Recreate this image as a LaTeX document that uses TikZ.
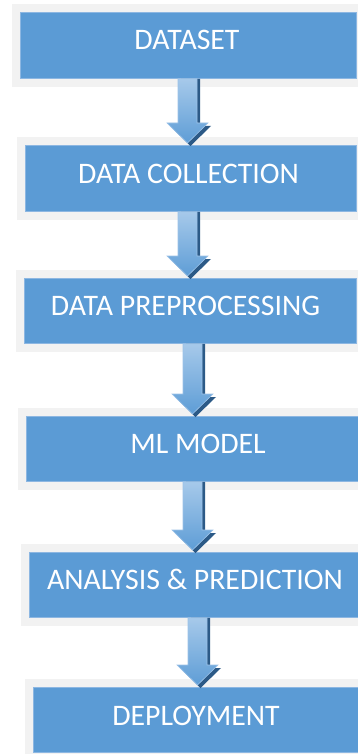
\documentclass[tikz,border=0pt]{standalone}
\usepackage{fontspec}
\setmainfont{Carlito}
\usetikzlibrary{calc,backgrounds}
\definecolor{boxblue}{HTML}{5B9BD5}
\definecolor{boxedge}{HTML}{8DB7E2}
\definecolor{backgrey}{HTML}{F2F2F2}
\definecolor{arrowtop}{HTML}{A6C9EA}
\definecolor{arrowbot}{HTML}{5E9DD6}
\definecolor{arrowdark}{HTML}{2C5A87}
\definecolor{arrowedge}{HTML}{9CC2E8}
\tikzset{
  flowbox/.style={rectangle, fill=boxblue, draw=boxedge, line width=0.8pt, inner sep=0pt, anchor=north west},
  flowtext/.style={text=white, font=\fontsize{29.8}{35}\selectfont, inner sep=0pt, anchor=base},
  backdrop/.style={fill=backgrey},
  arrowshadow/.style={fill=arrowdark},
  arrowbody/.style={top color=arrowtop, bottom color=arrowbot, draw=arrowedge, line width=0.6pt, line join=miter},
}
\newcommand{\flowarrow}[3]{%
  \fill[arrowshadow] let \p1=(#1.south), \p2=(#2.north) in
    ({#3pt-9.5pt+3pt},{\y1}) -- ({#3pt+9.5pt+3pt},{\y1}) -- ({#3pt+9.5pt+3pt},{\y2+22pt-3pt})
    -- ({#3pt+20.5pt+3pt},{\y2+22pt-3pt}) -- ({#3pt+3pt},{\y2+2pt-3pt})
    -- ({#3pt-20.5pt+3pt},{\y2+22pt-3pt}) -- ({#3pt-9.5pt+3pt},{\y2+22pt-3pt}) -- cycle;
  \shadedraw[arrowbody] let \p1=(#1.south), \p2=(#2.north) in
    ({#3pt-9.5pt},{\y1}) -- ({#3pt+9.5pt},{\y1}) -- ({#3pt+9.5pt},{\y2+22pt})
    -- ({#3pt+20.5pt},{\y2+22pt}) -- ({#3pt},{\y2+2pt})
    -- ({#3pt-20.5pt},{\y2+22pt}) -- ({#3pt-9.5pt},{\y2+22pt}) -- cycle;
}
\begin{document}
\begin{tikzpicture}[x=1pt,y=-1pt]
\useasboundingbox (0,0) rectangle (357,754);

\node[flowbox, minimum width=336pt, minimum height=66pt] (b1) at (20,12) {};
\node[flowbox, minimum width=331pt, minimum height=66pt] (b2) at (25,145) {};
\node[flowbox, minimum width=332pt, minimum height=65pt] (b3) at (24,278) {};
\node[flowbox, minimum width=345pt, minimum height=65pt] (b4) at (26,416) {};
\node[flowbox, minimum width=345pt, minimum height=65pt] (b5) at (29,552) {};
\node[flowbox, minimum width=345pt, minimum height=65pt] (b6) at (33,687) {};

\begin{scope}[on background layer]
  \fill[white] (0,0) rectangle (357,754);
  \foreach \b in {b1,b2,b3,b4,b5,b6}{
    \fill[backdrop] ($(\b.north west)+(-8,-8)$) rectangle ($(\b.south east)+(8,8)$);
  }
\end{scope}

\node[flowtext] (t1) at (187,50) {DATASET};
\node[flowtext] (t2) at (188.5,183) {DATA COLLECTION};
\node[flowtext] (t3) at (185.5,315) {DATA PREPROCESSING};
\node[flowtext] (t4) at (198,453) {ML MODEL};
\node[flowtext] (t5) at (195,589) {ANALYSIS \& PREDICTION};
\node[flowtext] (t6) at (196,725) {DEPLOYMENT};

\flowarrow{b1}{b2}{187.5}
\flowarrow{b2}{b3}{187.5}
\flowarrow{b3}{b4}{192.5}
\flowarrow{b4}{b5}{192.5}
\flowarrow{b5}{b6}{197.5}
\end{tikzpicture}
\end{document}
